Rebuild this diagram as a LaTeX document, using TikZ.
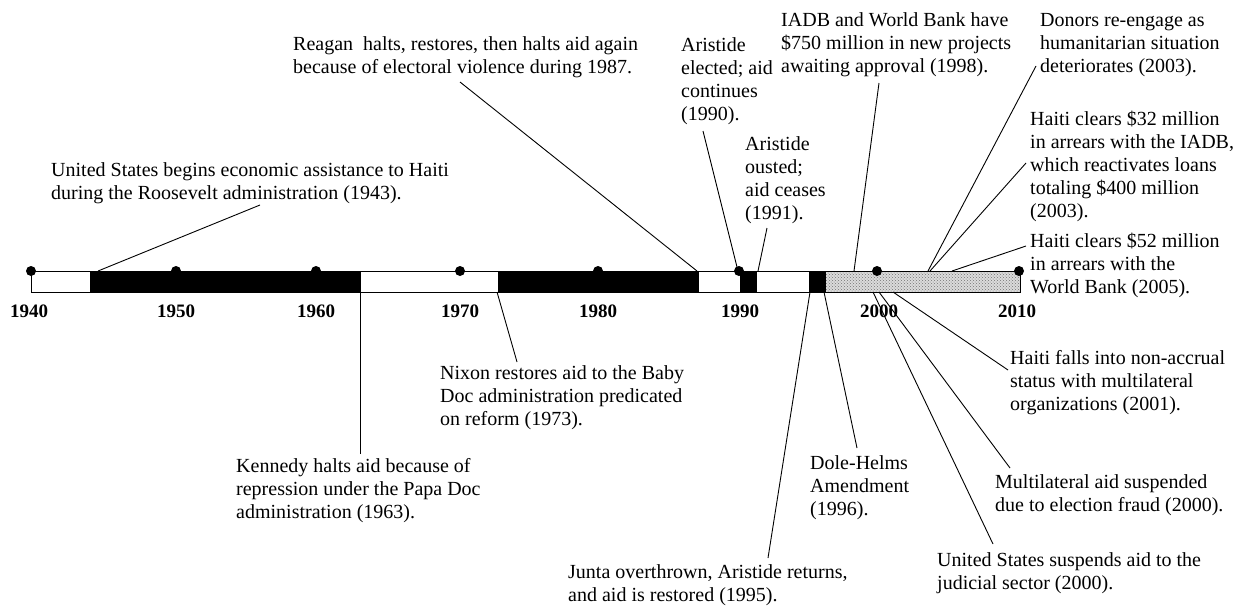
\documentclass[tikz,border=0pt]{standalone}
\usepackage{fontspec}
\setmainfont{Liberation Serif}
\usetikzlibrary{patterns}
\begin{document}
\begin{tikzpicture}[x=1pt,y=-1pt,
  lbl/.style={anchor=base west, align=left, inner sep=0pt, font=\fontsize{20}{23}\selectfont},
  yr/.style={anchor=base, inner sep=0pt, font=\fontsize{19}{19}\selectfont\bfseries},
  conn/.style={draw=black, line width=0.9pt},
  seg/.style={draw=black, line width=1pt},
  dot/.style={circle, fill=black, inner sep=0pt, minimum size=10pt}]
\useasboundingbox[fill=white] (0,0) rectangle (1239,606);

% ---- bar ----
\draw[seg, fill=white] (31,271) rectangle (90,292);
\draw[seg, fill=black] (90,271) rectangle (360,292);
\draw[seg, fill=white] (360,271) rectangle (498,292);
\draw[seg, fill=black] (498,271) rectangle (698,292);
\draw[seg, fill=white] (698,271) rectangle (740,292);
\draw[seg, fill=black] (740,271) rectangle (756,292);
\draw[seg, fill=white] (756,271) rectangle (809,292);
\draw[seg, fill=black] (809,271) rectangle (825,292);
\fill[black!14] (825,271) rectangle (1020,292);
\fill[pattern=crosshatch dots, pattern color=black!55] (825,271) rectangle (1020,292);
\draw[seg] (825,271) rectangle (1020,292);

% ---- decade dots and labels ----
\node[dot] (d40) at (31,271) {};
\node[dot] (d50) at (176,271) {};
\node[dot] (d60) at (316,271) {};
\node[dot] (d70) at (460,271) {};
\node[dot] (d80) at (598,271) {};
\node[dot] (d90) at (739,271) {};
\node[dot] (d00) at (877,271) {};
\node[dot] (d10) at (1019,271) {};
\node[yr] (y40) at (29,317) {1940};
\node[yr] (y50) at (176,317) {1950};
\node[yr] (y60) at (316,317) {1960};
\node[yr] (y70) at (460,317) {1970};
\node[yr] (y80) at (598,317) {1980};
\node[yr] (y90) at (740,317) {1990};
\node[yr] (y00) at (879,317) {2000};
\node[yr] (y10) at (1017,317) {2010};

% ---- texts above (positions are baselines of the LAST line) ----
\node[lbl] (t1) at (51,199) {United States begins economic assistance to Haiti\\during the Roosevelt administration (1943).};
\node[lbl] (t2) at (293,73) {Reagan~ halts, restores, then halts aid again\\because of electoral violence during 1987.};
\node[lbl] (t3) at (681,120) {Aristide\\elected; aid\\continues\\(1990).};
\node[lbl] (t4) at (745,219) {Aristide\\ousted;\\aid ceases\\(1991).};
\node[lbl] (t5) at (781,72) {IADB and World Bank have\\\$750 million in new projects\\awaiting approval (1998).};
\node[lbl] (t6) at (1040,72) {Donors re-engage as\\humanitarian situation\\deteriorates (2003).};
\node[lbl] (t7) at (1030,217) {Haiti clears \$32 million\\in arrears with the IADB,\\which reactivates loans\\totaling \$400 million\\(2003).};
\node[lbl] (t8) at (1030,293) {Haiti clears \$52 million\\in arrears with the\\World Bank (2005).};

% ---- texts below ----
\node[lbl] (t9) at (236,518) {Kennedy halts aid because of\\repression under the Papa Doc\\administration (1963).};
\node[lbl] (t10) at (440,425) {Nixon restores aid to the Baby\\Doc administration predicated\\on reform (1973).};
\node[lbl] (t11) at (568,601) {Junta overthrown, Aristide returns,\\and aid is restored (1995).};
\node[lbl] (t12) at (810,515) {Dole-Helms\\Amendment\\(1996).};
\node[lbl] (t13) at (1010,410) {Haiti falls into non-accrual\\status with multilateral\\organizations (2001).};
\node[lbl] (t14) at (995,511) {Multilateral aid suspended\\due to election fraud (2000).};
\node[lbl] (t15) at (937,589) {United States suspends aid to the\\judicial sector (2000).};

% ---- connector end points ----
\coordinate (a1) at (260,205);  \coordinate (b1) at (98,271);
\coordinate (a2) at (460,82);   \coordinate (b2) at (697,271);
\coordinate (a3) at (703,131);  \coordinate (b3) at (738,271);
\coordinate (a4) at (767,228);  \coordinate (b4) at (758,271);
\coordinate (a5) at (879,83);   \coordinate (b5) at (854,271);
\coordinate (a6) at (1036,66);  \coordinate (b6) at (928,271);
\coordinate (a7) at (1026,163); \coordinate (b7) at (930,271);
\coordinate (a8) at (1026,246); \coordinate (b8) at (952,271);
\coordinate (a9) at (360,454);  \coordinate (b9) at (360,292);
\coordinate (a10) at (517,362); \coordinate (b10) at (497,292);
\coordinate (a11) at (768,558); \coordinate (b11) at (810,292);
\coordinate (a12) at (857,448); \coordinate (b12) at (824,292);
\coordinate (a13) at (1008,370);\coordinate (b13) at (893,292);
\coordinate (a14) at (1010,468);\coordinate (b14) at (879,292);
\coordinate (a15) at (993,544); \coordinate (b15) at (873,292);

\foreach \i in {1,...,15} { \draw[conn] (a\i) -- (b\i); }
\end{tikzpicture}
\end{document}
